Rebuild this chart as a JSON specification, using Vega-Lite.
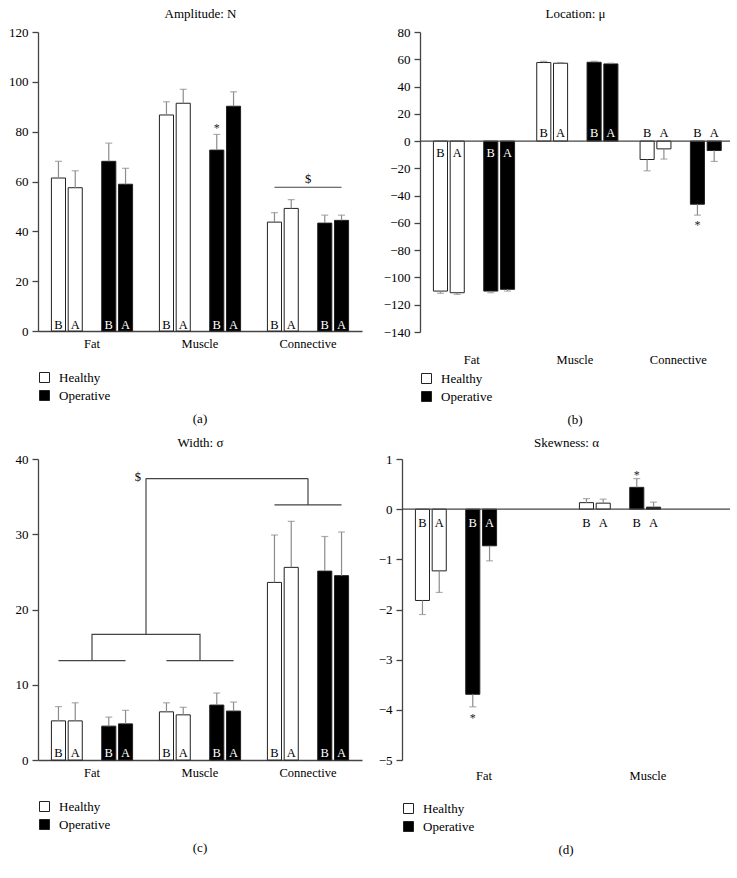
{
"$schema":"https://vega.github.io/schema/vega-lite/v6.json",
"padding":{"left":8,"top":7,"right":5,"bottom":5},
"datasets":{
"bars":[
{"panel":"a","tissue":"Fat","group":"Healthy","time":"B","bar":"HB","mean":61.4,"errEnd":68.1,"sig":""},
{"panel":"a","tissue":"Fat","group":"Healthy","time":"A","bar":"HA","mean":57.5,"errEnd":64.3,"sig":""},
{"panel":"a","tissue":"Fat","group":"Operative","time":"B","bar":"OB","mean":68.1,"errEnd":75.4,"sig":""},
{"panel":"a","tissue":"Fat","group":"Operative","time":"A","bar":"OA","mean":58.9,"errEnd":65.3,"sig":""},
{"panel":"a","tissue":"Muscle","group":"Healthy","time":"B","bar":"HB","mean":86.7,"errEnd":92.0,"sig":""},
{"panel":"a","tissue":"Muscle","group":"Healthy","time":"A","bar":"HA","mean":91.4,"errEnd":97.0,"sig":""},
{"panel":"a","tissue":"Muscle","group":"Operative","time":"B","bar":"OB","mean":72.6,"errEnd":78.9,"sig":"*"},
{"panel":"a","tissue":"Muscle","group":"Operative","time":"A","bar":"OA","mean":90.2,"errEnd":96.0,"sig":""},
{"panel":"a","tissue":"Connective","group":"Healthy","time":"B","bar":"HB","mean":43.7,"errEnd":47.5,"sig":""},
{"panel":"a","tissue":"Connective","group":"Healthy","time":"A","bar":"HA","mean":49.2,"errEnd":52.7,"sig":""},
{"panel":"a","tissue":"Connective","group":"Operative","time":"B","bar":"OB","mean":43.3,"errEnd":46.5,"sig":""},
{"panel":"a","tissue":"Connective","group":"Operative","time":"A","bar":"OA","mean":44.4,"errEnd":46.5,"sig":""},
{"panel":"b","tissue":"Fat","group":"Healthy","time":"B","bar":"HB","mean":-110.0,"errEnd":-111.6,"sig":""},
{"panel":"b","tissue":"Fat","group":"Healthy","time":"A","bar":"HA","mean":-111.2,"errEnd":-112.4,"sig":""},
{"panel":"b","tissue":"Fat","group":"Operative","time":"B","bar":"OB","mean":-110.0,"errEnd":-111.2,"sig":""},
{"panel":"b","tissue":"Fat","group":"Operative","time":"A","bar":"OA","mean":-108.7,"errEnd":-110.0,"sig":""},
{"panel":"b","tissue":"Muscle","group":"Healthy","time":"B","bar":"HB","mean":57.6,"errEnd":58.5,"sig":""},
{"panel":"b","tissue":"Muscle","group":"Healthy","time":"A","bar":"HA","mean":57.1,"errEnd":57.6,"sig":""},
{"panel":"b","tissue":"Muscle","group":"Operative","time":"B","bar":"OB","mean":57.8,"errEnd":58.5,"sig":""},
{"panel":"b","tissue":"Muscle","group":"Operative","time":"A","bar":"OA","mean":56.6,"errEnd":57.1,"sig":""},
{"panel":"b","tissue":"Connective","group":"Healthy","time":"B","bar":"HB","mean":-13.5,"errEnd":-21.8,"sig":""},
{"panel":"b","tissue":"Connective","group":"Healthy","time":"A","bar":"HA","mean":-5.7,"errEnd":-13.2,"sig":""},
{"panel":"b","tissue":"Connective","group":"Operative","time":"B","bar":"OB","mean":-46.3,"errEnd":-54.3,"sig":"*"},
{"panel":"b","tissue":"Connective","group":"Operative","time":"A","bar":"OA","mean":-6.9,"errEnd":-14.9,"sig":""},
{"panel":"c","tissue":"Fat","group":"Healthy","time":"B","bar":"HB","mean":5.2,"errEnd":7.1,"sig":""},
{"panel":"c","tissue":"Fat","group":"Healthy","time":"A","bar":"HA","mean":5.2,"errEnd":7.6,"sig":""},
{"panel":"c","tissue":"Fat","group":"Operative","time":"B","bar":"OB","mean":4.5,"errEnd":5.7,"sig":""},
{"panel":"c","tissue":"Fat","group":"Operative","time":"A","bar":"OA","mean":4.8,"errEnd":6.6,"sig":""},
{"panel":"c","tissue":"Muscle","group":"Healthy","time":"B","bar":"HB","mean":6.4,"errEnd":7.6,"sig":""},
{"panel":"c","tissue":"Muscle","group":"Healthy","time":"A","bar":"HA","mean":6.0,"errEnd":7.0,"sig":""},
{"panel":"c","tissue":"Muscle","group":"Operative","time":"B","bar":"OB","mean":7.3,"errEnd":8.9,"sig":""},
{"panel":"c","tissue":"Muscle","group":"Operative","time":"A","bar":"OA","mean":6.5,"errEnd":7.7,"sig":""},
{"panel":"c","tissue":"Connective","group":"Healthy","time":"B","bar":"HB","mean":23.6,"errEnd":29.9,"sig":""},
{"panel":"c","tissue":"Connective","group":"Healthy","time":"A","bar":"HA","mean":25.6,"errEnd":31.7,"sig":""},
{"panel":"c","tissue":"Connective","group":"Operative","time":"B","bar":"OB","mean":25.1,"errEnd":29.7,"sig":""},
{"panel":"c","tissue":"Connective","group":"Operative","time":"A","bar":"OA","mean":24.5,"errEnd":30.3,"sig":""},
{"panel":"d","tissue":"Fat","group":"Healthy","time":"B","bar":"HB","mean":-1.82,"errEnd":-2.10,"sig":""},
{"panel":"d","tissue":"Fat","group":"Healthy","time":"A","bar":"HA","mean":-1.23,"errEnd":-1.66,"sig":""},
{"panel":"d","tissue":"Fat","group":"Operative","time":"B","bar":"OB","mean":-3.69,"errEnd":-3.94,"sig":"*"},
{"panel":"d","tissue":"Fat","group":"Operative","time":"A","bar":"OA","mean":-0.73,"errEnd":-1.03,"sig":""},
{"panel":"d","tissue":"Muscle","group":"Healthy","time":"B","bar":"HB","mean":0.13,"errEnd":0.21,"sig":""},
{"panel":"d","tissue":"Muscle","group":"Healthy","time":"A","bar":"HA","mean":0.12,"errEnd":0.20,"sig":""},
{"panel":"d","tissue":"Muscle","group":"Operative","time":"B","bar":"OB","mean":0.435,"errEnd":0.61,"sig":"*"},
{"panel":"d","tissue":"Muscle","group":"Operative","time":"A","bar":"OA","mean":0.04,"errEnd":0.14,"sig":""}
],
"lines":[
{"panel":"a","seg":"a1","tissue":"Connective","bar":"HB","v":57.7,"ord":1},
{"panel":"a","seg":"a1","tissue":"Connective","bar":"OA","v":57.7,"ord":2},
{"panel":"c","seg":"c1","tissue":"Fat","bar":"HB","v":13.2,"ord":1},
{"panel":"c","seg":"c1","tissue":"Fat","bar":"OA","v":13.2,"ord":2},
{"panel":"c","seg":"c2","tissue":"Muscle","bar":"HB","v":13.2,"ord":1},
{"panel":"c","seg":"c2","tissue":"Muscle","bar":"OA","v":13.2,"ord":2},
{"panel":"c","seg":"c3","tissue":"Fat","bar":"G","v":13.2,"ord":1},
{"panel":"c","seg":"c3","tissue":"Fat","bar":"G","v":16.7,"ord":2},
{"panel":"c","seg":"c3","tissue":"Muscle","bar":"G","v":16.7,"ord":3},
{"panel":"c","seg":"c3","tissue":"Muscle","bar":"G","v":13.2,"ord":4},
{"panel":"c","seg":"c4","tissue":"Connective","bar":"HB","v":33.9,"ord":1},
{"panel":"c","seg":"c4","tissue":"Connective","bar":"OA","v":33.9,"ord":2},
{"panel":"c","seg":"c5","tissue":"Connective","bar":"G","v":33.9,"ord":1},
{"panel":"c","seg":"c5","tissue":"Connective","bar":"G","v":37.4,"ord":2}
],
"notes":[
{"panel":"a","tissue":"Connective","bar":"G","v":57.7,"label":"$"}
],
"bridge":[
{"panel":"c","tissue":"Muscle","tissue2":"Connective","v":16.7,"v2":37.4,"label":"$"}
],
"zero":[
{"panel":"b","z":0,"from":"Fat","to":"Connective"},
{"panel":"d","z":0,"from":"Fat","to":"Muscle"}
]
},
"vconcat":[
{"hconcat":[
{
"width":324,"height":299,
"data":{"name":"bars"},
"transform":[{"filter":"datum.panel==='a'"}],
"title":{"text":"(a)","orient":"bottom","anchor":"middle","offset":10},
"resolve":{"axis":{"x":"independent"}},
"layer":[
{"mark":{"type":"bar","stroke":"#222","strokeWidth":1},
"encoding":{
"x":{"field":"tissue","type":"nominal","scale":{"domain":["Fat","Muscle","Connective"],"paddingInner":0,"paddingOuter":0},"axis":{"title":null,"labelPadding":6,"domain":true,"ticks":false,"tickSize":0}},
"xOffset":{"field":"bar","type":"nominal","scale":{"domain":["HB","HA","G","OB","OA"],"paddingInner":0.16,"paddingOuter":0.8}},
"y":{"field":"mean","type":"quantitative","scale":{"domain":[0,120],"nice":false},"axis":{"title":null,"domain":true,"values":[0,20,40,60,80,100,120]}},
"fill":{"field":"group","type":"nominal","scale":{"domain":["Healthy","Operative"],"range":["#ffffff","#000000"]},"legend":{"title":null,"orient":"none","legendX":0,"legendY":339,"direction":"vertical"}}}},
{"mark":{"type":"rule","color":"#8c8c8c","strokeWidth":1.2},
"encoding":{"x":{"field":"tissue","type":"nominal","axis":null},"xOffset":{"field":"bar","type":"nominal"},"y":{"field":"mean","type":"quantitative","axis":{"title":null}},"y2":{"field":"errEnd"}}},
{"mark":{"type":"tick","color":"#8c8c8c","size":7,"thickness":1.2},
"encoding":{"x":{"field":"tissue","type":"nominal","axis":null},"xOffset":{"field":"bar","type":"nominal"},"y":{"field":"errEnd","type":"quantitative","axis":{"title":null}}}},
{"mark":{"type":"text","fontSize":12.5,"baseline":"alphabetic","dy":-2},
"encoding":{"x":{"field":"tissue","type":"nominal","axis":{"orient":"top","title":"Amplitude: N","labels":false,"domain":false,"ticks":false,"titlePadding":12,"titleFontSize":13}},"xOffset":{"field":"bar","type":"nominal"},"y":{"datum":0,"type":"quantitative","axis":{"title":null}},"text":{"field":"time"},"color":{"condition":{"test":"datum.group==='Operative'","value":"#ffffff"},"value":"#000000"}}},
{"transform":[{"filter":"datum.sig==='*'"}],"mark":{"type":"text","fontSize":12,"baseline":"alphabetic","dy":-2,"color":"#222222"},
"encoding":{"x":{"field":"tissue","type":"nominal","axis":null},"xOffset":{"field":"bar","type":"nominal"},"y":{"field":"errEnd","type":"quantitative","axis":{"title":null}},"text":{"field":"sig"}}},
{"data":{"name":"lines"},"transform":[{"filter":"datum.panel==='a'"}],"mark":{"type":"line","color":"#444444","strokeWidth":1.2},
"encoding":{"x":{"field":"tissue","type":"nominal","axis":null},"xOffset":{"field":"bar","type":"nominal"},"y":{"field":"v","type":"quantitative","axis":{"title":null}},"detail":{"field":"seg"},"order":{"field":"ord","type":"quantitative"}}},
{"data":{"name":"notes"},"transform":[{"filter":"datum.panel==='a'"}],"mark":{"type":"text","fontSize":12.5,"baseline":"alphabetic","dy":-4,"color":"#000000"},
"encoding":{"x":{"field":"tissue","type":"nominal","axis":null},"xOffset":{"field":"bar","type":"nominal"},"y":{"field":"v","type":"quantitative","axis":{"title":null}},"text":{"field":"label"}}}
]
},
{
"width":310,"height":300,
"data":{"name":"bars"},
"transform":[{"filter":"datum.panel==='b'"}],
"title":{"text":"(b)","orient":"bottom","anchor":"middle","offset":10},
"resolve":{"axis":{"x":"independent"}},
"layer":[
{"mark":{"type":"bar","stroke":"#222","strokeWidth":1},
"encoding":{
"x":{"field":"tissue","type":"nominal","scale":{"domain":["Fat","Muscle","Connective"],"paddingInner":0,"paddingOuter":0},"axis":{"title":null,"labelPadding":21,"domain":false,"ticks":false,"tickSize":0}},
"xOffset":{"field":"bar","type":"nominal","scale":{"domain":["HB","HA","G","OB","OA"],"paddingInner":0.2,"paddingOuter":0.82}},
"y":{"field":"mean","type":"quantitative","scale":{"domain":[-140,80],"nice":false,"zero":false},"axis":{"title":null,"domain":true,"ticks":true,"labelOverlap":false,"values":[-140,-120,-100,-80,-60,-40,-20,0,20,40,60,80]}},
"fill":{"field":"group","type":"nominal","scale":{"domain":["Healthy","Operative"],"range":["#ffffff","#000000"]},"legend":{"title":null,"orient":"none","legendX":0,"legendY":340,"direction":"vertical"}}}},
{"data":{"name":"zero"},"transform":[{"filter":"datum.panel==='b'"}],"mark":{"type":"rule","color":"#444444","strokeWidth":1.3},
"encoding":{"x":{"field":"from","type":"nominal","bandPosition":0,"axis":null},"x2":{"field":"to","bandPosition":1},"y":{"field":"z","type":"quantitative","axis":{"title":null,"domain":true,"ticks":true,"labelOverlap":false,"values":[-140,-120,-100,-80,-60,-40,-20,0,20,40,60,80]}}}},
{"mark":{"type":"rule","color":"#8c8c8c","strokeWidth":1.2},
"encoding":{"x":{"field":"tissue","type":"nominal","axis":null},"xOffset":{"field":"bar","type":"nominal"},"y":{"field":"mean","type":"quantitative","axis":{"title":null,"domain":true,"ticks":true,"labelOverlap":false,"values":[-140,-120,-100,-80,-60,-40,-20,0,20,40,60,80]}},"y2":{"field":"errEnd"}}},
{"mark":{"type":"tick","color":"#8c8c8c","size":7,"thickness":1.2},
"encoding":{"x":{"field":"tissue","type":"nominal","axis":null},"xOffset":{"field":"bar","type":"nominal"},"y":{"field":"errEnd","type":"quantitative","axis":{"title":null,"domain":true,"ticks":true,"labelOverlap":false,"values":[-140,-120,-100,-80,-60,-40,-20,0,20,40,60,80]}}}},
{"transform":[{"filter":"datum.tissue==='Fat'"}],"mark":{"type":"text","fontSize":12.5,"baseline":"alphabetic","dy":16},
"encoding":{"x":{"field":"tissue","type":"nominal","axis":{"orient":"top","title":"Location: μ","labels":false,"domain":false,"ticks":false,"titlePadding":12,"titleFontSize":13}},"xOffset":{"field":"bar","type":"nominal"},"y":{"datum":0,"type":"quantitative","axis":{"title":null,"domain":true,"ticks":true,"labelOverlap":false,"values":[-140,-120,-100,-80,-60,-40,-20,0,20,40,60,80]}},"text":{"field":"time"},"color":{"condition":{"test":"datum.group==='Operative'","value":"#ffffff"},"value":"#000000"}}},
{"transform":[{"filter":"datum.tissue!=='Fat'"}],"mark":{"type":"text","fontSize":12.5,"baseline":"alphabetic","dy":-4},
"encoding":{"x":{"field":"tissue","type":"nominal","axis":null},"xOffset":{"field":"bar","type":"nominal"},"y":{"datum":0,"type":"quantitative","axis":{"title":null,"domain":true,"ticks":true,"labelOverlap":false,"values":[-140,-120,-100,-80,-60,-40,-20,0,20,40,60,80]}},"text":{"field":"time"},"color":{"condition":{"test":"datum.group==='Operative' && datum.tissue==='Muscle'","value":"#ffffff"},"value":"#000000"}}},
{"transform":[{"filter":"datum.sig==='*'"}],"mark":{"type":"text","fontSize":12,"baseline":"alphabetic","dy":14,"color":"#222222"},
"encoding":{"x":{"field":"tissue","type":"nominal","axis":null},"xOffset":{"field":"bar","type":"nominal"},"y":{"field":"errEnd","type":"quantitative","axis":{"title":null,"domain":true,"ticks":true,"labelOverlap":false,"values":[-140,-120,-100,-80,-60,-40,-20,0,20,40,60,80]}},"text":{"field":"sig"}}}
]
}
],"spacing":58,"bounds":"flush","resolve":{"scale":{"fill":"independent"}}},
{"hconcat":[
{
"width":324,"height":301,
"data":{"name":"bars"},
"transform":[{"filter":"datum.panel==='c'"}],
"title":{"text":"(c)","orient":"bottom","anchor":"middle","offset":10},
"resolve":{"axis":{"x":"independent"}},
"layer":[
{"mark":{"type":"bar","stroke":"#222","strokeWidth":1},
"encoding":{
"x":{"field":"tissue","type":"nominal","scale":{"domain":["Fat","Muscle","Connective"],"paddingInner":0,"paddingOuter":0},"axis":{"title":null,"labelPadding":6,"domain":true,"ticks":false,"tickSize":0}},
"xOffset":{"field":"bar","type":"nominal","scale":{"domain":["HB","HA","G","OB","OA"],"paddingInner":0.16,"paddingOuter":0.8}},
"y":{"field":"mean","type":"quantitative","scale":{"domain":[0,40],"nice":false},"axis":{"title":null,"domain":true,"values":[0,5,10,15,20,25,30,35,40]}},
"fill":{"field":"group","type":"nominal","scale":{"domain":["Healthy","Operative"],"range":["#ffffff","#000000"]},"legend":{"title":null,"orient":"none","legendX":0,"legendY":341,"direction":"vertical"}}}},
{"mark":{"type":"rule","color":"#8c8c8c","strokeWidth":1.2},
"encoding":{"x":{"field":"tissue","type":"nominal","axis":null},"xOffset":{"field":"bar","type":"nominal"},"y":{"field":"mean","type":"quantitative","axis":{"title":null}},"y2":{"field":"errEnd"}}},
{"mark":{"type":"tick","color":"#8c8c8c","size":7,"thickness":1.2},
"encoding":{"x":{"field":"tissue","type":"nominal","axis":null},"xOffset":{"field":"bar","type":"nominal"},"y":{"field":"errEnd","type":"quantitative","axis":{"title":null}}}},
{"mark":{"type":"text","fontSize":12.5,"baseline":"alphabetic","dy":-3},
"encoding":{"x":{"field":"tissue","type":"nominal","axis":{"orient":"top","title":"Width: σ","labels":false,"domain":false,"ticks":false,"titlePadding":10,"titleFontSize":13}},"xOffset":{"field":"bar","type":"nominal"},"y":{"datum":0,"type":"quantitative","axis":{"title":null}},"text":{"field":"time"},"color":{"condition":{"test":"datum.group==='Operative'","value":"#ffffff"},"value":"#000000"}}},
{"data":{"name":"lines"},"transform":[{"filter":"datum.panel==='c'"}],"mark":{"type":"line","color":"#444444","strokeWidth":1.2},
"encoding":{"x":{"field":"tissue","type":"nominal","axis":null},"xOffset":{"field":"bar","type":"nominal"},"y":{"field":"v","type":"quantitative","axis":{"title":null}},"detail":{"field":"seg"},"order":{"field":"ord","type":"quantitative"}}},
{"data":{"name":"bridge"},"mark":{"type":"rule","color":"#444444","strokeWidth":1.2},
"encoding":{"x":{"field":"tissue","type":"nominal","bandPosition":0,"axis":null},"y":{"field":"v","type":"quantitative","axis":{"title":null}},"y2":{"field":"v2"}}},
{"data":{"name":"bridge"},"mark":{"type":"rule","color":"#444444","strokeWidth":1.2},
"encoding":{"x":{"field":"tissue","type":"nominal","bandPosition":0,"axis":null},"x2":{"field":"tissue2","bandPosition":0.5},"y":{"field":"v2","type":"quantitative","axis":{"title":null}}}},
{"data":{"name":"bridge"},"mark":{"type":"text","fontSize":12.5,"baseline":"alphabetic","align":"right","dx":-5,"dy":2,"color":"#000000"},
"encoding":{"x":{"field":"tissue","type":"nominal","bandPosition":0,"axis":null},"y":{"field":"v2","type":"quantitative","axis":{"title":null}},"text":{"field":"label"}}}
]
},
{
"width":328,"height":301,
"data":{"name":"bars"},
"transform":[{"filter":"datum.panel==='d'"}],
"title":{"text":"(d)","orient":"bottom","anchor":"middle","offset":10},
"resolve":{"axis":{"x":"independent"}},
"layer":[
{"mark":{"type":"bar","stroke":"#222","strokeWidth":1},
"encoding":{
"x":{"field":"tissue","type":"nominal","scale":{"domain":["Fat","Muscle"],"paddingInner":0,"paddingOuter":0},"axis":{"title":null,"labelPadding":9,"domain":false,"ticks":false,"tickSize":0}},
"xOffset":{"field":"bar","type":"nominal","scale":{"domain":["HB","HA","G","OB","OA"],"paddingInner":0.19,"paddingOuter":0.85}},
"y":{"field":"mean","type":"quantitative","scale":{"domain":[-5,1],"nice":false,"zero":false},"axis":{"title":null,"domain":true,"values":[-5,-4,-3,-2,-1,0,1]}},
"fill":{"field":"group","type":"nominal","scale":{"domain":["Healthy","Operative"],"range":["#ffffff","#000000"]},"legend":{"title":null,"orient":"none","legendX":0,"legendY":343,"direction":"vertical"}}}},
{"data":{"name":"zero"},"transform":[{"filter":"datum.panel==='d'"}],"mark":{"type":"rule","color":"#444444","strokeWidth":1.3},
"encoding":{"x":{"field":"from","type":"nominal","bandPosition":0,"axis":null},"x2":{"field":"to","bandPosition":1},"y":{"field":"z","type":"quantitative","axis":{"title":null}}}},
{"mark":{"type":"rule","color":"#8c8c8c","strokeWidth":1.2},
"encoding":{"x":{"field":"tissue","type":"nominal","axis":null},"xOffset":{"field":"bar","type":"nominal"},"y":{"field":"mean","type":"quantitative","axis":{"title":null}},"y2":{"field":"errEnd"}}},
{"mark":{"type":"tick","color":"#8c8c8c","size":7,"thickness":1.2},
"encoding":{"x":{"field":"tissue","type":"nominal","axis":null},"xOffset":{"field":"bar","type":"nominal"},"y":{"field":"errEnd","type":"quantitative","axis":{"title":null}}}},
{"mark":{"type":"text","fontSize":12.5,"baseline":"alphabetic","dy":18},
"encoding":{"x":{"field":"tissue","type":"nominal","axis":{"orient":"top","title":"Skewness: α","labels":false,"domain":false,"ticks":false,"titlePadding":10,"titleFontSize":13}},"xOffset":{"field":"bar","type":"nominal"},"y":{"datum":0,"type":"quantitative","axis":{"title":null}},"text":{"field":"time"},"color":{"condition":{"test":"datum.group==='Operative' && datum.tissue==='Fat'","value":"#ffffff"},"value":"#000000"}}},
{"transform":[{"filter":"datum.sig==='*' && datum.mean<0"}],"mark":{"type":"text","fontSize":12,"baseline":"alphabetic","dy":15,"color":"#222222"},
"encoding":{"x":{"field":"tissue","type":"nominal","axis":null},"xOffset":{"field":"bar","type":"nominal"},"y":{"field":"errEnd","type":"quantitative","axis":{"title":null}},"text":{"field":"sig"}}},
{"transform":[{"filter":"datum.sig==='*' && datum.mean>0"}],"mark":{"type":"text","fontSize":12,"baseline":"alphabetic","dy":0,"color":"#222222"},
"encoding":{"x":{"field":"tissue","type":"nominal","axis":null},"xOffset":{"field":"bar","type":"nominal"},"y":{"field":"errEnd","type":"quantitative","axis":{"title":null}},"text":{"field":"sig"}}}
]
}
],"spacing":40,"bounds":"flush","resolve":{"scale":{"fill":"independent"}}}
],
"spacing":427,"bounds":"flush","resolve":{"scale":{"fill":"independent"}},
"config":{
"font":"Liberation Serif",
"view":{"stroke":null},
"axis":{"domainColor":"#444444","tickColor":"#444444","domainWidth":1.3,"tickWidth":1.3,"labelColor":"#000000","labelFont":"Liberation Serif","titleFont":"Liberation Serif","titleFontWeight":"normal","titleColor":"#000000","grid":false},
"axisY":{"tickSize":6,"labelFontSize":13,"labelPadding":4,"labelOverlap":false},
"axisX":{"labelFontSize":12.5,"labelAngle":0},
"legend":{"labelFontSize":13,"labelFont":"Liberation Serif","labelColor":"#000000","symbolType":"square","symbolSize":100,"symbolStrokeColor":"#222222","symbolStrokeWidth":1,"rowPadding":3,"labelOffset":8},
"title":{"fontSize":13,"fontWeight":"normal","color":"#000000","font":"Liberation Serif"},
"text":{"font":"Liberation Serif"}
}
}
